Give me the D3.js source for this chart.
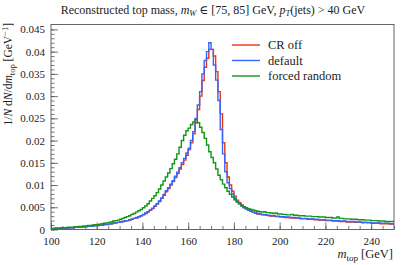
<html>
<head>
<meta charset="utf-8">
<title>Reconstructed top mass</title>
<style>
body { margin: 0; background: #fff; }
text { font-family: "Liberation Serif", "DejaVu Serif", serif; fill: #222; }
</style>
</head>
<body>
<svg width="407" height="265"></svg>
<script src="https://d3js.org/d3.v7.min.js"></script>
<script>

// histogram bins, 1 GeV wide, lower edges 100 ... 249
var binLow = d3.range(100, 250, 1);

var crOff = [
  0.0002,0.0002,0.0003,0.0002,0.0003,0.0003,0.0003,0.0003,0.0004,0.0004,
  0.0005,0.0005,0.0005,0.0005,0.0006,0.0006,0.0007,0.0008,0.0008,0.0009,
  0.0009,0.0010,0.0010,0.0011,0.0011,0.0012,0.0013,0.0014,0.0015,0.0016,
  0.0017,0.0018,0.0019,0.0020,0.0021,0.0023,0.0025,0.0026,0.0028,0.0031,
  0.0033,0.0036,0.0040,0.0043,0.0047,0.0052,0.0057,0.0063,0.0070,0.0077,
  0.0085,0.0092,0.0100,0.0108,0.0117,0.0126,0.0136,0.0146,0.0156,0.0167,
  0.0180,0.0195,0.0215,0.0240,0.0270,0.0300,0.0335,0.0365,0.0385,0.0405,
  0.0405,0.0390,0.0355,0.0310,0.0260,0.0195,0.0150,0.0118,0.0100,0.0086,
  0.0075,0.0066,0.0060,0.0055,0.0050,0.0047,0.0044,0.0041,0.0039,0.0037,
  0.0035,0.0034,0.0033,0.0033,0.0032,0.0031,0.0030,0.0030,0.0029,0.0029,
  0.0028,0.0028,0.0027,0.0027,0.0027,0.0026,0.0026,0.0025,0.0025,0.0024,
  0.0024,0.0024,0.0023,0.0023,0.0023,0.0022,0.0022,0.0021,0.0021,0.0021,
  0.0020,0.0020,0.0020,0.0019,0.0019,0.0019,0.0018,0.0018,0.0018,0.0017,
  0.0017,0.0017,0.0017,0.0016,0.0016,0.0016,0.0015,0.0016,0.0015,0.0015,
  0.0014,0.0014,0.0014,0.0014,0.0013,0.0013,0.0013,0.0013,0.0012,0.0012
];

var dflt = [
  0.0002,0.0002,0.0003,0.0002,0.0003,0.0003,0.0004,0.0003,0.0004,0.0004,
  0.0005,0.0005,0.0005,0.0006,0.0006,0.0007,0.0007,0.0008,0.0008,0.0009,
  0.0009,0.0010,0.0010,0.0011,0.0012,0.0012,0.0013,0.0014,0.0015,0.0016,
  0.0017,0.0018,0.0019,0.0020,0.0022,0.0023,0.0025,0.0027,0.0029,0.0031,
  0.0034,0.0037,0.0040,0.0044,0.0048,0.0053,0.0058,0.0064,0.0071,0.0079,
  0.0087,0.0094,0.0102,0.0110,0.0120,0.0129,0.0139,0.0150,0.0160,0.0172,
  0.0183,0.0200,0.0220,0.0250,0.0280,0.0310,0.0350,0.0380,0.0400,0.0420,
  0.0405,0.0370,0.0336,0.0290,0.0225,0.0170,0.0130,0.0105,0.0092,0.0080,
  0.0070,0.0063,0.0058,0.0053,0.0049,0.0046,0.0043,0.0041,0.0039,0.0037,
  0.0036,0.0035,0.0034,0.0033,0.0032,0.0032,0.0031,0.0031,0.0030,0.0030,
  0.0029,0.0029,0.0028,0.0028,0.0027,0.0027,0.0027,0.0026,0.0026,0.0025,
  0.0025,0.0025,0.0024,0.0024,0.0024,0.0023,0.0023,0.0022,0.0022,0.0022,
  0.0021,0.0021,0.0021,0.0020,0.0020,0.0020,0.0019,0.0019,0.0019,0.0018,
  0.0018,0.0018,0.0018,0.0017,0.0017,0.0017,0.0016,0.0016,0.0016,0.0016,
  0.0015,0.0015,0.0015,0.0015,0.0014,0.0014,0.0014,0.0014,0.0013,0.0013
];

var forcedRandom = [
  0.0002,0.0003,0.0003,0.0003,0.0004,0.0004,0.0004,0.0005,0.0005,0.0005,
  0.0006,0.0006,0.0007,0.0007,0.0008,0.0008,0.0009,0.0009,0.0010,0.0011,
  0.0011,0.0012,0.0013,0.0014,0.0015,0.0016,0.0017,0.0019,0.0020,0.0021,
  0.0023,0.0025,0.0027,0.0029,0.0031,0.0034,0.0036,0.0039,0.0042,0.0045,
  0.0049,0.0053,0.0058,0.0064,0.0070,0.0076,0.0083,0.0091,0.0100,0.0109,
  0.0118,0.0127,0.0137,0.0148,0.0158,0.0170,0.0185,0.0200,0.0212,0.0222,
  0.0228,0.0236,0.0242,0.0247,0.0240,0.0230,0.0218,0.0205,0.0190,0.0175,
  0.0162,0.0150,0.0136,0.0122,0.0112,0.0102,0.0094,0.0086,0.0079,0.0073,
  0.0067,0.0062,0.0058,0.0054,0.0051,0.0049,0.0047,0.0045,0.0044,0.0042,
  0.0041,0.0040,0.0039,0.0040,0.0038,0.0038,0.0037,0.0036,0.0037,0.0035,
  0.0035,0.0034,0.0034,0.0033,0.0033,0.0034,0.0032,0.0032,0.0031,0.0031,
  0.0031,0.0030,0.0030,0.0030,0.0029,0.0029,0.0029,0.0028,0.0028,0.0028,
  0.0027,0.0027,0.0027,0.0026,0.0026,0.0028,0.0025,0.0025,0.0024,0.0024,
  0.0024,0.0023,0.0023,0.0023,0.0022,0.0022,0.0022,0.0021,0.0021,0.0021,
  0.0020,0.0020,0.0020,0.0019,0.0019,0.0019,0.0018,0.0018,0.0018,0.0018
];

var seriesNames = ["CR off", "default", "forced random"];
var seriesColors = ["#EE3311", "#3366FF", "#109618"];
var yTicks = [0, 0.005, 0.01, 0.015, 0.02, 0.025, 0.03, 0.035, 0.04, 0.045];
var yTickLabels = ["0", "0.005", "0.01", "0.015", "0.02", "0.025", "0.03", "0.035", "0.04", "0.045"];
var xTicks = [100, 120, 140, 160, 180, 200, 220, 240];

var svg = d3.select("svg");
var margin = {left: 51, right: 13, top: 24.5, bottom: 35.5};
var width = 407 - margin.left - margin.right,
    height = 265 - margin.top - margin.bottom;

var x = d3.scaleLinear().domain([100, 250]).range([0, width]);
var y = d3.scaleLinear().domain([0, 0.0461]).range([height, 0]);

var g = svg.append("g").attr("transform", "translate(" + margin.left + "," + margin.top + ")");

g.append("clipPath").attr("id", "plotclip")
  .append("rect").attr("width", width).attr("height", height);

// ticks, drawn inwards
var xAxis = d3.axisBottom(x).tickValues(d3.range(100, 251, 5)).tickSize(-3.5).tickFormat("");
g.append("g").attr("transform", "translate(0," + height + ")").call(xAxis);
g.append("g").attr("transform", "translate(0," + height + ")")
  .call(d3.axisBottom(x).tickValues(xTicks).tickSize(-7).tickPadding(8).tickFormat(d3.format("d")));

g.append("g").call(d3.axisLeft(y).tickValues(d3.range(0, 0.0455, 0.001)).tickSize(-3.5).tickFormat(""));
g.append("g").call(d3.axisLeft(y).tickValues(yTicks).tickSize(-7).tickPadding(6)
  .tickFormat(function(d, i) { return yTickLabels[i]; }));

g.selectAll(".domain").remove();
g.selectAll(".tick line").attr("stroke", "#555").attr("stroke-width", 0.8);
g.selectAll(".tick text").style("font-size", "11px").attr("fill", "#222");

// histograms
var line = d3.line()
  .x(function(d) { return x(d[0]); })
  .y(function(d) { return y(d[1]); })
  .curve(d3.curveStepAfter);

[crOff, dflt, forcedRandom].forEach(function(vals, s) {
  var pts = binLow.map(function(b, i) { return [b, vals[i]]; });
  pts.push([250, vals[vals.length - 1]]);
  g.append("path")
    .attr("clip-path", "url(#plotclip)")
    .attr("d", line(pts))
    .attr("fill", "none")
    .attr("stroke", seriesColors[s])
    .attr("stroke-width", 1.4)
    .attr("stroke-linejoin", "miter");
});

// frame
g.append("rect").attr("width", width).attr("height", height)
  .attr("fill", "none").attr("stroke", "#555").attr("stroke-width", 0.9);

// legend
var legend = g.selectAll(".legend")
  .data(seriesNames)
  .enter().append("g")
    .attr("transform", function(d, i) { return "translate(181," + (20.5 + i * 15.5) + ")"; });
legend.append("line").attr("x1", 0).attr("x2", 28)
  .attr("stroke", function(d, i) { return seriesColors[i]; }).attr("stroke-width", 1.4);
legend.append("text").attr("x", 36).attr("dy", "0.35em")
  .style("font-size", "12.5px").text(function(d) { return d; });

// title
var title = svg.append("text").attr("x", 213).attr("y", 14).attr("text-anchor", "middle")
  .style("font-size", "12px");
title.append("tspan").text("Reconstructed top mass, ");
title.append("tspan").attr("font-style", "italic").text("m");
title.append("tspan").attr("font-style", "italic").attr("dy", 2).style("font-size", "8.5px").text("W");
title.append("tspan").attr("dy", -2).text(" \u2208 [75, 85] GeV, ");
title.append("tspan").attr("font-style", "italic").text("p");
title.append("tspan").attr("font-style", "italic").attr("dy", 2).style("font-size", "8.5px").text("T");
title.append("tspan").attr("dy", -2).text("(jets) > 40 GeV");

// x label
var xl = svg.append("text").attr("x", 393).attr("y", 258).attr("text-anchor", "end")
  .style("font-size", "12.5px");
xl.append("tspan").attr("font-style", "italic").text("m");
xl.append("tspan").attr("dy", 2.5).style("font-size", "9px").text("top");
xl.append("tspan").attr("dy", -2.5).text(" [GeV]");

// y label
var yl = svg.append("text").attr("transform", "translate(12,23) rotate(-90)")
  .attr("text-anchor", "end").style("font-size", "11.5px");
yl.append("tspan").text("1/");
yl.append("tspan").attr("font-style", "italic").text("N");
yl.append("tspan").text(" d");
yl.append("tspan").attr("font-style", "italic").text("N");
yl.append("tspan").text("/d");
yl.append("tspan").attr("font-style", "italic").text("m");
yl.append("tspan").attr("dy", 2.5).style("font-size", "8.5px").text("top");
yl.append("tspan").attr("dy", -2.5).text(" [GeV");
yl.append("tspan").attr("dy", -4).style("font-size", "8.5px").text("\u22121");
yl.append("tspan").attr("dy", 4).text("]");

</script>
</body>
</html>
